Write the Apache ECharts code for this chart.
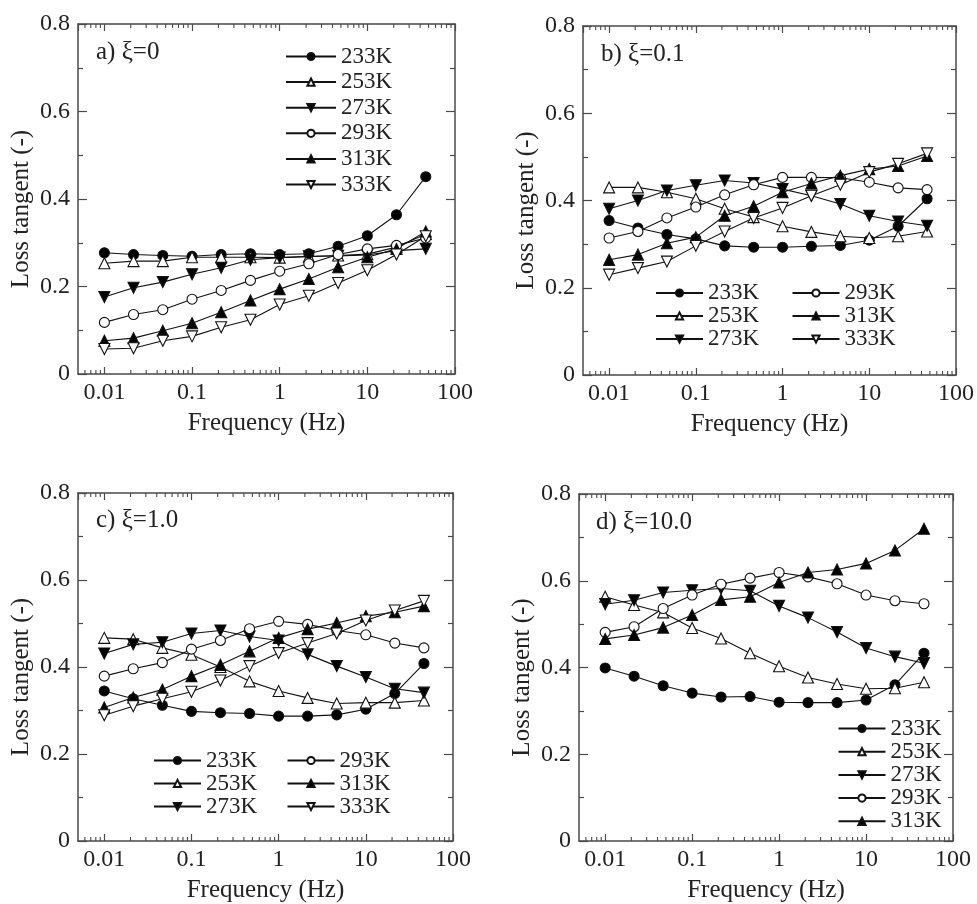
<!DOCTYPE html>
<html>
<head>
<meta charset="utf-8">
<script src="https://cdn.jsdelivr.net/npm/echarts@6/dist/echarts.min.js"></script>
<style>html,body{margin:0;padding:0;background:#fff;}#c{width:977px;height:904px;}</style>
</head>
<body>
<div id="c"></div>
<script>
// ---- data ----
const freq = [0.01, 0.0215, 0.0464, 0.1, 0.215, 0.464, 1, 2.15, 4.64, 10, 21.5, 46.4];
const temps = ['233K', '253K', '273K', '293K', '313K', '333K'];
const xTickLabels = ['0.01', '0.1', '1', '10', '100'];
const xMinorTicks = [0.006, 0.007, 0.008, 0.009,
  0.02, 0.03, 0.04, 0.05, 0.06, 0.07, 0.08, 0.09,
  0.2, 0.3, 0.4, 0.5, 0.6, 0.7, 0.8, 0.9,
  2, 3, 4, 5, 6, 7, 8, 9,
  20, 30, 40, 50, 60, 70, 80, 90];
const panelLabels = ['a) \u03BE=0', 'b) \u03BE=0.1', 'c) \u03BE=1.0', 'd) \u03BE=10.0'];

// panel a: xi = 0
const a233 = [0.277, 0.273, 0.271, 0.269, 0.273, 0.275, 0.273, 0.275, 0.292, 0.316, 0.364, 0.451];
const a253 = [0.253, 0.258, 0.258, 0.267, 0.267, 0.267, 0.266, 0.268, 0.271, 0.274, 0.290, 0.320];
const a273 = [0.176, 0.197, 0.210, 0.228, 0.243, 0.261, 0.266, 0.269, 0.270, 0.272, 0.282, 0.286];
const a293 = [0.118, 0.136, 0.147, 0.171, 0.191, 0.214, 0.235, 0.252, 0.273, 0.286, 0.294, 0.311];
const a313 = [0.076, 0.082, 0.099, 0.116, 0.141, 0.168, 0.194, 0.217, 0.244, 0.267, 0.286, 0.326];
const a333 = [0.057, 0.059, 0.076, 0.086, 0.107, 0.124, 0.159, 0.179, 0.208, 0.237, 0.273, 0.315];
// panel b: xi = 0.1
const b233 = [0.354, 0.337, 0.322, 0.312, 0.296, 0.293, 0.293, 0.295, 0.297, 0.309, 0.341, 0.404];
const b253 = [0.430, 0.430, 0.419, 0.404, 0.381, 0.362, 0.341, 0.328, 0.318, 0.314, 0.318, 0.329];
const b273 = [0.381, 0.400, 0.423, 0.435, 0.446, 0.440, 0.426, 0.411, 0.392, 0.365, 0.352, 0.342];
const b293 = [0.314, 0.329, 0.360, 0.385, 0.413, 0.436, 0.453, 0.453, 0.452, 0.442, 0.429, 0.425];
const b313 = [0.264, 0.276, 0.302, 0.316, 0.365, 0.387, 0.419, 0.439, 0.457, 0.472, 0.479, 0.502];
const b333 = [0.230, 0.245, 0.260, 0.296, 0.329, 0.360, 0.383, 0.411, 0.436, 0.465, 0.484, 0.508];
// panel c: xi = 1.0
const c233 = [0.345, 0.327, 0.312, 0.298, 0.295, 0.293, 0.287, 0.287, 0.290, 0.303, 0.339, 0.408];
const c253 = [0.467, 0.464, 0.444, 0.428, 0.400, 0.367, 0.345, 0.329, 0.316, 0.318, 0.318, 0.323];
const c273 = [0.431, 0.452, 0.457, 0.477, 0.484, 0.470, 0.461, 0.429, 0.402, 0.377, 0.350, 0.341];
const c293 = [0.379, 0.396, 0.410, 0.441, 0.461, 0.488, 0.505, 0.498, 0.484, 0.474, 0.455, 0.444];
const c313 = [0.307, 0.330, 0.348, 0.379, 0.405, 0.436, 0.467, 0.487, 0.501, 0.517, 0.526, 0.540];
const c333 = [0.289, 0.310, 0.327, 0.343, 0.369, 0.402, 0.432, 0.455, 0.477, 0.507, 0.530, 0.552];
// panel d: xi = 10.0
const d233 = [0.399, 0.380, 0.358, 0.341, 0.332, 0.333, 0.320, 0.319, 0.319, 0.325, 0.360, 0.433];
const d253 = [0.563, 0.544, 0.527, 0.491, 0.467, 0.433, 0.403, 0.377, 0.362, 0.351, 0.352, 0.366];
const d273 = [0.546, 0.555, 0.573, 0.578, 0.582, 0.577, 0.542, 0.515, 0.482, 0.445, 0.425, 0.410];
const d293 = [0.481, 0.494, 0.536, 0.567, 0.592, 0.606, 0.619, 0.609, 0.593, 0.567, 0.554, 0.547];
const d313 = [0.466, 0.475, 0.492, 0.521, 0.556, 0.563, 0.596, 0.619, 0.626, 0.640, 0.670, 0.720];

const panels = [
  [a233, a253, a273, a293, a313, a333],
  [b233, b253, b273, b293, b313, b333],
  [c233, c253, c273, c293, c313, c333],
  [d233, d253, d273, d293, d313]
];

// ---- styling ----
const FONT = '"Liberation Serif", "Times New Roman", serif';
const TXT = '#222';
const AX = '#4a4a4a';
const DOWN = 'path://M0,0 L10,0 L5,8.66 Z';
const markers = [
  {symbol: 'circle', size: 10, fill: '#000'},
  {symbol: 'triangle', size: 11, fill: '#fff'},
  {symbol: DOWN, size: 11, fill: '#000'},
  {symbol: 'circle', size: 10, fill: '#fff'},
  {symbol: 'triangle', size: 11, fill: '#000'},
  {symbol: DOWN, size: 11, fill: '#fff'}
];

const grids = [
  {left: 78, top: 24, width: 377, height: 350},
  {left: 583, top: 26, width: 374, height: 349},
  {left: 78, top: 493, width: 375, height: 348},
  {left: 579, top: 494, width: 374, height: 349}
];

const xAxes = [], yAxes = [], series = [], titles = [];
const lineAx = {show: true, onZero: false, lineStyle: {color: AX, width: 1.5}};

function xLabel(v) {
  const l = Math.log10(v);
  const r = Math.round(l);
  return Math.abs(l - r) < 1e-6 && r >= -2 && r <= 2 ? xTickLabels[r + 2] : '';
}

grids.forEach((g, i) => {
  const common = {
    type: 'log', gridIndex: i, min: 0.005, max: 100, logBase: 10,
    axisLine: lineAx, splitLine: {show: false},
    axisTick: {show: true, inside: true, length: 7, lineStyle: {color: AX, width: 1.2}},
    minorTick: {show: false}
  };
  xAxes.push(Object.assign({}, common, {
    position: 'bottom',
    name: 'Frequency (Hz)', nameLocation: 'middle', nameGap: 37,
    nameTextStyle: {fontFamily: FONT, fontSize: 25, color: TXT},
    axisLabel: {show: true, margin: 7, fontFamily: FONT, fontSize: 24, color: TXT,
      formatter: xLabel, showMinLabel: false, showMaxLabel: true}
  }));
  xAxes.push(Object.assign({}, common, {position: 'top', axisLabel: {show: false}}));
  const ycommon = {
    type: 'value', gridIndex: i, min: 0, max: 0.8, interval: 0.2,
    axisLine: lineAx, splitLine: {show: false},
    axisTick: {show: true, inside: true, length: 9, lineStyle: {color: AX, width: 1.2}},
    minorTick: {show: true, splitNumber: 2, length: 5, lineStyle: {color: AX, width: 1.2}}
  };
  yAxes.push(Object.assign({}, ycommon, {
    position: 'left',
    name: 'Loss tangent (-)', nameLocation: 'middle', nameGap: 44,
    nameTextStyle: {fontFamily: FONT, fontSize: 25, color: TXT, padding: [0, 20, 0, 0]},
    axisLabel: {show: true, margin: 8, fontFamily: FONT, fontSize: 24, color: TXT,
      formatter: v => (v === 0 ? '0' : v.toFixed(1))}
  }));
  yAxes.push(Object.assign({}, ycommon, {position: 'right', axisLabel: {show: false}}));

  // minor log ticks on bottom and top edges
  series.push({
    type: 'custom', xAxisIndex: 2 * i, yAxisIndex: 2 * i, silent: true, clip: false,
    data: xMinorTicks.map(v => [v, 0]),
    encode: {x: 0, y: 1},
    renderItem: (params, api) => {
      const pb = api.coord([api.value(0), 0]);
      const pt = api.coord([api.value(0), 0.8]);
      const st = {stroke: AX, lineWidth: 1.1};
      return {type: 'group', children: [
        {type: 'line', shape: {x1: pb[0], y1: pb[1], x2: pb[0], y2: pb[1] - 4}, style: st},
        {type: 'line', shape: {x1: pt[0], y1: pt[1], x2: pt[0], y2: pt[1] + 4}, style: st}
      ]};
    }
  });

  panels[i].forEach((vals, k) => {
    const m = markers[k];
    series.push({
      type: 'line', name: temps[k], xAxisIndex: 2 * i, yAxisIndex: 2 * i,
      data: freq.map((f, j) => [f, vals[j]]),
      symbol: m.symbol, symbolSize: m.size, showSymbol: true,
      lineStyle: {color: '#111', width: 1.1},
      itemStyle: {color: m.fill, borderColor: '#111', borderWidth: 1.1},
      emphasis: {disabled: true}
    });
  });
});

const titlePos = [[96, 39.5], [601, 41.5], [96, 507.5], [596, 509.5]];
titlePos.forEach((p, i) => {
  titles.push({text: panelLabels[i], left: p[0], top: p[1], padding: 0,
    textStyle: {fontFamily: FONT, fontSize: 25, fontWeight: 'normal', color: TXT}});
});

const legendBase = {
  orient: 'vertical', padding: 0, itemHeight: 9, selectedMode: false,
  textStyle: {fontFamily: FONT, fontSize: 23, color: TXT}
};
const legends = [
  Object.assign({}, legendBase, {left: 285, top: 45, itemWidth: 50, itemGap: 2.6, data: temps}),
  Object.assign({}, legendBase, {left: 655, top: 281.5, itemWidth: 47, itemGap: 0, data: temps.slice(0, 3)}),
  Object.assign({}, legendBase, {left: 791.5, top: 281.5, itemWidth: 47, itemGap: 0, data: temps.slice(3)}),
  Object.assign({}, legendBase, {left: 153, top: 749, itemWidth: 47, itemGap: 0, data: temps.slice(0, 3)}),
  Object.assign({}, legendBase, {left: 286.5, top: 749, itemWidth: 47, itemGap: 0, data: temps.slice(3)}),
  Object.assign({}, legendBase, {left: 837.5, top: 717, itemWidth: 47, itemGap: 0.2, data: temps.slice(0, 5)})
];

const chart = echarts.init(document.getElementById('c'), null, {renderer: 'canvas'});
chart.setOption({
  animation: false,
  backgroundColor: '#fff',
  title: titles,
  legend: legends,
  grid: grids,
  xAxis: xAxes,
  yAxis: yAxes,
  series: series
});
</script>
</body>
</html>
